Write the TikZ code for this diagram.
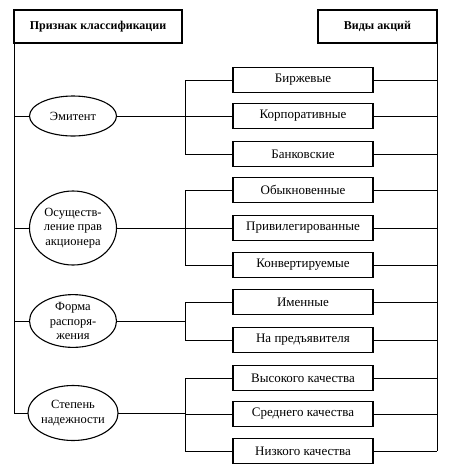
\documentclass[tikz,border=0pt]{standalone}
\usepackage{fontspec}
\setmainfont{Liberation Serif}
\usetikzlibrary{shapes.geometric}
\begin{document}
\begin{tikzpicture}[x=1pt,y=-1pt,
  hdr/.style={draw,line width=1.3pt,minimum height=33pt,inner sep=0pt,outer sep=0pt,font=\bfseries\fontsize{12}{14}\selectfont},
  kind/.style={draw,line width=1.3pt,minimum width=140pt,minimum height=25pt,inner sep=0pt,outer sep=0pt,font=\fontsize{13}{14}\selectfont},
  crit/.style={draw,ellipse,line width=1.1pt,minimum width=87pt,inner sep=0pt,outer sep=0pt,align=center,font=\fontsize{12.5}{14.5}\selectfont},
  conn/.style={line width=0.8pt}]
\useasboundingbox (0,0) rectangle (449,475);
\node[hdr,minimum width=168pt] (hl) at (98,26.5) {Признак классификации};
\node[hdr,minimum width=119pt] (hr) at (377.5,26.5) {Виды акций};
\node[crit,minimum height=40pt] (e1) at (73,116) {Эмитент};
\node[crit,minimum height=74pt] (e2) at (73,228) {Осуществ-\\ление прав\\акционера};
\node[crit,minimum height=48pt] (e3) at (73,321) {Форма\\распоря-\\жения};
\node[crit,minimum height=55pt] (e4) at (73,413) {Степень\\надежности};
\node[kind] (k1) at (303,80) {Биржевые};
\node[kind] (k2) at (303,116) {Корпоративные};
\node[kind] (k3) at (303,154) {Банковские};
\node[kind] (k4) at (303,190) {Обыкновенные};
\node[kind] (k5) at (303,228) {Привилегированные};
\node[kind] (k6) at (303,265) {Конвертируемые};
\node[kind] (k7) at (303,302) {Именные};
\node[kind] (k8) at (303,340) {На предъявителя};
\node[kind] (k9) at (303,378) {Высокого качества};
\node[kind] (k10) at (303,414) {Среднего качества};
\node[kind] (k11) at (303,451) {Низкого качества};
\coordinate (bx) at (185,0);
% left spine
\coordinate (lb) at (e4.west -| hl.south west);
\draw[conn] (hl.south west) -- (lb) -- (e4.west);
\foreach \e in {e1,e2,e3} \draw[conn] (\e.west -| hl.south west) -- (\e.west);
% right spine
\coordinate (rb) at (k11.east -| hr.south east);
\draw[conn] (hr.south east) -- (rb);
\foreach \k in {k1,k2,k3,k4,k5,k6,k7,k8,k9,k10,k11} {
  \draw[conn] (\k.east) -- (\k.east -| hr.south east);
  \draw[conn] (\k.west) -- (\k.west -| bx);
}
% brackets
\draw[conn] (k1.west -| bx) -- (k3.west -| bx);
\draw[conn] (k4.west -| bx) -- (k6.west -| bx);
\draw[conn] (k7.west -| bx) -- (k8.west -| bx);
\draw[conn] (k9.west -| bx) -- (k11.west -| bx);
\draw[conn] (e1.east) -- (e1.east -| bx);
\draw[conn] (e2.east) -- (e2.east -| bx);
\draw[conn] (e3.east) -- (e3.east -| bx);
\draw[conn] (e4.east) -- (e4.east -| bx);
\end{tikzpicture}
\end{document}
